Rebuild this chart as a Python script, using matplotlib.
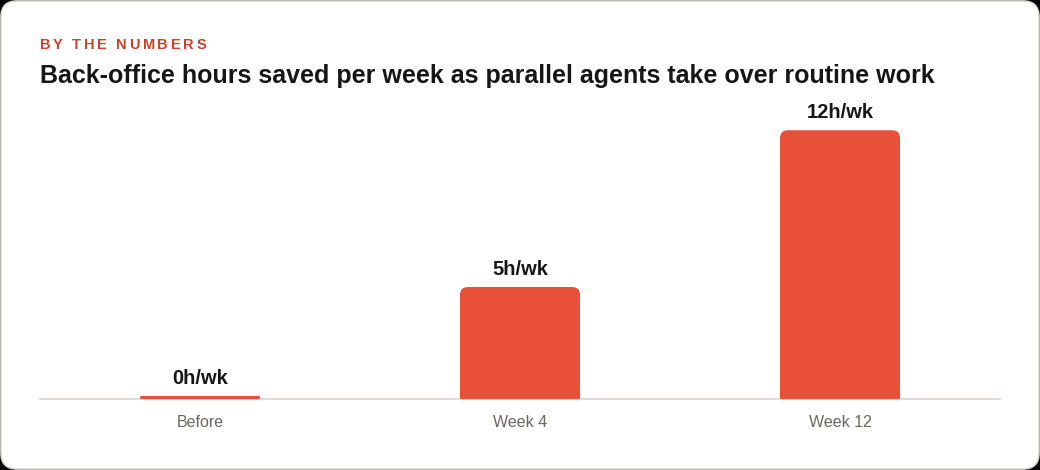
import matplotlib
matplotlib.use("Agg")
import matplotlib.pyplot as plt
from matplotlib.patches import FancyBboxPatch, Rectangle

# ---- data ----
categories = ["Before", "Week 4", "Week 12"]
hours_saved = [0, 5, 12]
value_labels = ["0h/wk", "5h/wk", "12h/wk"]
eyebrow = "BY THE NUMBERS"
title = "Back-office hours saved per week as parallel agents take over routine work"

W, H = 1040, 470
DPI = 100
BAR_COLOR = "#E8503A"
EYEBROW_COLOR = "#C4442C"
TITLE_COLOR = "#161616"
TICK_COLOR = "#6B6660"
AXIS_COLOR = "#D9D5CF"

plt.rcParams["font.family"] = ["Liberation Sans", "DejaVu Sans"]

fig = plt.figure(figsize=(W / DPI, H / DPI), dpi=DPI)
fig.patch.set_facecolor("black")

def fx(x):
    return x / W

def fy(y):
    return 1 - y / H

# card background
card = FancyBboxPatch((fx(1), fy(469)), fx(1038), 468 / H,
                      boxstyle=f"round,pad=0,rounding_size={16 / W}",
                      mutation_aspect=W / H,
                      transform=fig.transFigure, facecolor="white",
                      edgecolor="#DEDBD5", linewidth=1.2, zorder=-10)
fig.patches.append(card)

# eyebrow with letter spacing
renderer = fig.canvas.get_renderer()
x = 40
for ch in eyebrow:
    t = fig.text(fx(x), fy(45), ch, fontsize=10.5, fontweight="bold",
                 color=EYEBROW_COLOR, va="center", ha="left")
    if ch == " ":
        w = 3.8
    else:
        w = t.get_window_extent(renderer).width
    x += w + 2.7

fig.text(fx(40), fy(76), title, fontsize=18, fontweight="bold",
         color=TITLE_COLOR, va="center", ha="left")

# axes
ax_left, ax_right, ax_top, ax_bottom = 40, 1000, 100, 399
ax = fig.add_axes([fx(ax_left), fy(ax_bottom), fx(ax_right - ax_left),
                   (ax_bottom - ax_top) / H])
ax.set_facecolor("none")
ymax = 13.35
ax.set_xlim(-0.5, len(categories) - 0.5)
ax.set_ylim(0, ymax)

bar_w = 0.375
px_per_x = (ax_right - ax_left) / len(categories)
px_per_y = (ax_bottom - ax_top) / ymax
radius_px = 8
min_h = 3 / px_per_y

for i, (v, lab) in enumerate(zip(hours_saved, value_labels)):
    h = max(v, min_h)
    x0 = i - bar_w / 2
    r = min(radius_px / px_per_x, h * px_per_y / 2 / px_per_x)
    p = FancyBboxPatch((x0, 0), bar_w, h,
                       boxstyle=f"round,pad=0,rounding_size={r}",
                       mutation_aspect=px_per_x / px_per_y,
                       facecolor=BAR_COLOR, edgecolor="none", zorder=2)
    ax.add_patch(p)
    if v > 0:
        ax.add_patch(Rectangle((x0, 0), bar_w, h / 2, facecolor=BAR_COLOR,
                               edgecolor="none", zorder=2))
    ax.annotate(lab, (i, h), xytext=(0, 8.6), textcoords="offset points",
                ha="center", va="baseline", fontsize=14.5, fontweight="bold",
                color=TITLE_COLOR)

ax.set_xticks(range(len(categories)))
ax.set_xticklabels(categories)
ax.tick_params(axis="x", length=0, pad=11.5, labelsize=11.5, labelcolor=TICK_COLOR)
ax.set_yticks([])
for s in ["top", "left", "right"]:
    ax.spines[s].set_visible(False)
ax.spines["bottom"].set_color(AXIS_COLOR)
ax.spines["bottom"].set_linewidth(1.2)
ax.spines["bottom"].set_zorder(1)

fig.savefig("out.png", dpi=DPI, facecolor=fig.get_facecolor())
